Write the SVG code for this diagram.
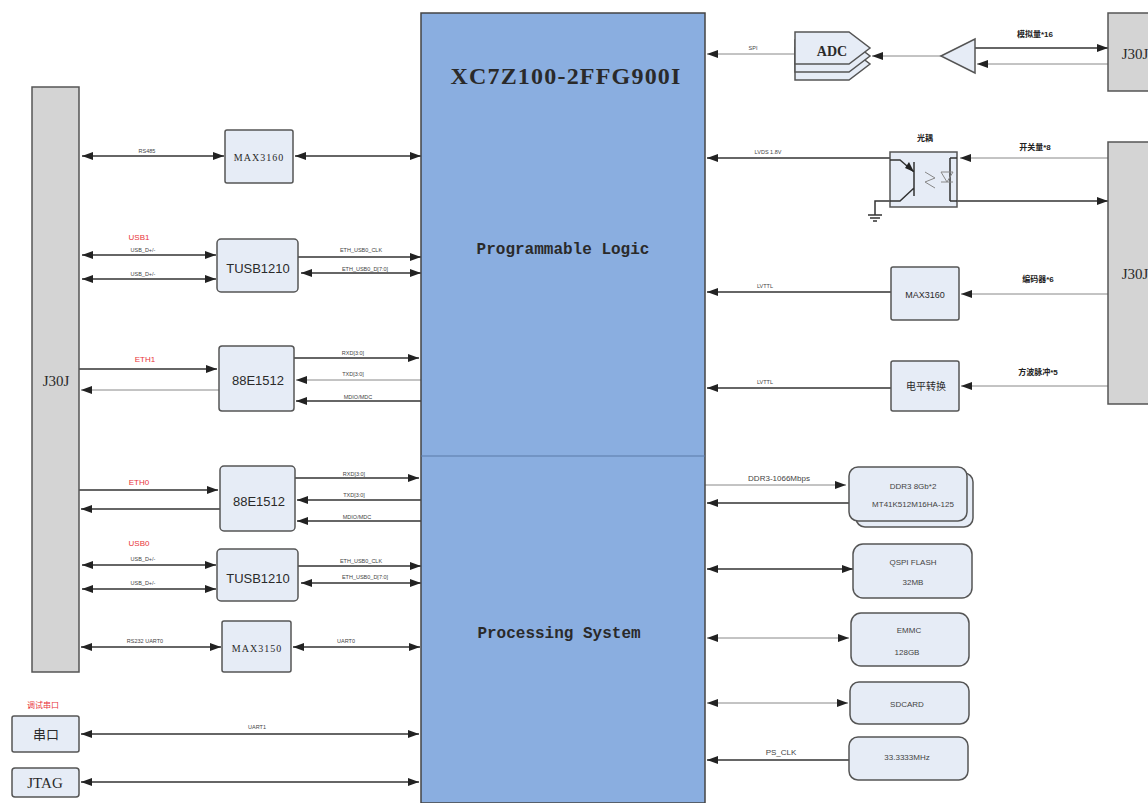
<svg xmlns="http://www.w3.org/2000/svg" width="1148" height="803" viewBox="0 0 1148 803">
<style>
text{font-family:"Liberation Sans","Noto Sans CJK SC",sans-serif;text-anchor:middle;fill:#2a2a2a}
.box{fill:#e6ecf6;stroke:#555;stroke-width:1.5}
.conn{fill:#d4d4d4;stroke:#555;stroke-width:1.5}
.chip{fill:#8aaee0;stroke:#444;stroke-width:1.5}
.ln{stroke:#333;stroke-width:1.5;fill:none}
.th{stroke-width:1;stroke:#888}
.a{marker-end:url(#e)}
.b{marker-start:url(#s);marker-end:url(#e)}
.s{font-family:"Liberation Serif","Noto Sans CJK SC",serif;font-size:15px}
.m{font-family:"Liberation Mono","Noto Sans CJK SC",monospace;font-size:16px;font-weight:bold}
.t{font-size:5.5px;fill:#444}
.r{font-size:8px;fill:#e8343a}
.c{font-size:8px;font-weight:bold;fill:#222}
.d{font-size:8px;fill:#444}
</style>
<defs>
<marker id="e" markerUnits="userSpaceOnUse" markerWidth="11" markerHeight="8" refX="11" refY="4" orient="auto"><path d="M0 0L11 4L0 8Z" fill="#222"/></marker>
<marker id="s" markerUnits="userSpaceOnUse" markerWidth="11" markerHeight="8" refX="0" refY="4" orient="auto"><path d="M11 0L0 4L11 8Z" fill="#222"/></marker>
</defs>
<rect width="1148" height="803" fill="#fff"/>
<g id="connectors">
<path class="ln b" d="M82 156H224"/><path class="ln b" d="M295 156H421"/>
<path class="ln b" d="M82 255H216"/><path class="ln b" d="M82 279H216"/>
<path class="ln a" d="M298 257H421"/><path class="ln b" d="M301 273H421"/>
<path class="ln a" d="M79 369H217"/><path class="ln th a" d="M219 390H81"/>
<path class="ln a" d="M294 358H419"/><path class="ln th a" d="M421 380H296"/><path class="ln a" d="M421 401H296"/>
<path class="ln a" d="M79 490H218"/><path class="ln a" d="M220 509H81"/>
<path class="ln a" d="M295 478H419"/><path class="ln a" d="M421 500H297"/><path class="ln a" d="M421 521H297"/>
<path class="ln b" d="M82 565H216"/><path class="ln b" d="M82 589H216"/>
<path class="ln a" d="M298 566H421"/><path class="ln b" d="M301 583H421"/>
<path class="ln b" d="M81 647H221"/><path class="ln b" d="M293 647H420"/>
<path class="ln b" d="M81 734H419"/><path class="ln b" d="M81 782H419"/>
<path class="ln th a" d="M795 54H707"/><path class="ln th a" d="M941 56H872"/>
<path class="ln a" d="M974 48H1108"/><path class="ln th a" d="M1108 64H977"/>
<path class="ln a" d="M890 158H707"/><path class="ln th a" d="M1108 158H960"/><path class="ln a" d="M957 201H1108"/>
<path class="ln" d="M890 201H875V215M868 215H882M870 218H880M873 221H877"/>
<path class="ln a" d="M891 292H707"/><path class="ln th a" d="M1108 294H961"/>
<path class="ln a" d="M891 388H707"/><path class="ln th a" d="M1108 386H961"/>
<path class="ln th a" d="M705 485H846"/><path class="ln a" d="M849 503H707"/>
<path class="ln b" d="M707 569H853"/><path class="ln th b" d="M707 638H849"/><path class="ln th b" d="M707 703H848"/>
<path class="ln a" d="M849 760H707"/>
</g>
<g id="fpga">
<rect class="chip" x="421" y="13" width="284" height="790"/>
<path d="M421 456H705" stroke="#5a7aa8" stroke-width="1"/>
<text x="566" y="84" font-size="24" font-weight="bold" letter-spacing="1.2" style="font-family:'Liberation Serif',serif" fill="#222">XC7Z100-2FFG900I</text>
<text class="m" x="563" y="254">Programmable Logic</text>
<text class="m" x="559" y="638">Processing System</text>
</g>
<g id="j30j-left"><rect class="conn" x="32" y="87" width="47" height="585"/><text class="s" x="56" y="386">J30J</text></g>
<g id="max3160-top"><rect class="box" x="225" y="130" width="68" height="53" rx="2"/><text class="s" x="259" y="161" style="font-size:10px;letter-spacing:1px">MAX3160</text></g>
<g id="tusb1"><rect class="box" x="217" y="239" width="81" height="53" rx="4"/><text x="258" y="273" font-size="13">TUSB1210</text></g>
<g id="phy1"><rect class="box" x="219" y="346" width="75" height="65" rx="3"/><text x="258" y="385" font-size="13">88E1512</text></g>
<g id="phy0"><rect class="box" x="220" y="466" width="75" height="65" rx="4"/><text x="259" y="506" font-size="13">88E1512</text></g>
<g id="tusb0"><rect class="box" x="217" y="549" width="81" height="52" rx="4"/><text x="258" y="583" font-size="13">TUSB1210</text></g>
<g id="max3150"><rect class="box" x="222" y="621" width="69" height="51" rx="2"/><text class="s" x="257" y="652" style="font-size:10px;letter-spacing:1px">MAX3150</text></g>
<g id="serial"><rect class="box" x="12" y="716" width="67" height="36" rx="2"/><text x="46" y="739" font-size="13">串口</text></g>
<g id="jtag"><rect class="box" x="12" y="768" width="67" height="29" rx="3"/><text class="s" x="45" y="788">JTAG</text></g>
<g id="j30j-a"><rect class="conn" x="1108" y="13" width="44" height="78"/><text class="s" x="1135" y="59">J30J</text></g>
<g id="j30j-b"><rect class="conn" x="1108" y="142" width="44" height="262"/><text class="s" x="1135" y="279">J30J</text></g>
<g id="adc">
<path class="box" d="M795 48H849L870 64L849 80H795Z"/>
<path class="box" d="M795 40H849L870 56L849 72H795Z"/>
<path class="box" d="M795 32H849L870 48L849 64H795Z"/>
<text x="832" y="56" font-size="14" font-weight="bold" style="font-family:'Liberation Serif',serif" fill="#222">ADC</text>
</g>
<g id="amp"><path class="box" d="M941 56L975 39V73Z"/></g>
<g id="opto">
<rect class="box" x="890" y="152" width="67" height="55" stroke-width="2"/>
<path class="ln" d="M914 162V196M914 172L900 160H890M914 188L900 201H890M950 158V201M957 158H950M957 201H950"/>
<path d="M914 172L905 168L909 162Z" fill="#222"/>
<path class="ln th" d="M925 172L935 178L925 182L935 188M941 172H953L947 182ZM941 182H953"/>
</g>
<g id="max3160-r"><rect class="box" x="891" y="267" width="68" height="53" rx="2"/><text x="925" y="298" font-size="9">MAX3160</text></g>
<g id="level"><rect class="box" x="891" y="361" width="68" height="50" rx="2"/><text x="926" y="390" font-size="10">电平转换</text></g>
<g id="ddr">
<rect class="box" x="856" y="473" width="117" height="54" rx="9"/>
<rect class="box" x="849" y="467" width="118" height="54" rx="9"/>
<text class="d" x="913" y="489">DDR3 8Gb*2</text><text class="d" x="913" y="507">MT41K512M16HA-125</text>
</g>
<g id="qspi"><rect class="box" x="853" y="544" width="119" height="54" rx="10"/><text class="d" x="913" y="565">QSPI FLASH</text><text class="d" x="913" y="585">32MB</text></g>
<g id="emmc"><rect class="box" x="851" y="613" width="118" height="53" rx="10"/><text class="d" x="909" y="633">EMMC</text><text class="d" x="907" y="655">128GB</text></g>
<g id="sd"><rect class="box" x="850" y="682" width="119" height="42" rx="9"/><text class="d" x="907" y="707">SDCARD</text></g>
<g id="clk"><rect class="box" x="849" y="737" width="119" height="43" rx="9"/><text class="d" x="907" y="760">33.3333MHz</text></g>
<g id="labels">
<text class="t" x="147" y="153">RS485</text>
<text class="r" x="139" y="240">USB1</text><text class="t" x="143" y="252">USB_D+/-</text><text class="t" x="143" y="276">USB_D+/-</text>
<text class="t" x="361" y="252">ETH_USB0_CLK</text><text class="t" x="365" y="271">ETH_USB0_D[7:0]</text>
<text class="r" x="145" y="362">ETH1</text>
<text class="t" x="353" y="355">RXD[3:0]</text><text class="t" x="353" y="376">TXD[3:0]</text><text class="t" x="358" y="399">MDIO/MDC</text>
<text class="r" x="139" y="485">ETH0</text>
<text class="t" x="354" y="476">RXD[3:0]</text><text class="t" x="354" y="497">TXD[3:0]</text><text class="t" x="357" y="519">MDIO/MDC</text>
<text class="r" x="139" y="546">USB0</text><text class="t" x="143" y="561">USB_D+/-</text><text class="t" x="143" y="585">USB_D+/-</text>
<text class="t" x="361" y="563">ETH_USB0_CLK</text><text class="t" x="365" y="579">ETH_USB0_D[7:0]</text>
<text class="t" x="145" y="643">RS232 UART0</text><text class="t" x="346" y="643">UART0</text>
<text class="r" x="43" y="708">调试串口</text><text class="t" x="257" y="729">UART1</text>
<text class="t" x="753" y="50">SPI</text><text class="t" x="768" y="154">LVDS 1.8V</text>
<text class="t" x="765" y="288">LVTTL</text><text class="t" x="765" y="384">LVTTL</text>
<text class="d" x="779" y="481">DDR3-1066Mbps</text><text class="d" x="781" y="755">PS_CLK</text>
<text class="c" x="1035" y="37">模拟量*16</text><text class="c" x="925" y="141">光耦</text>
<text class="c" x="1035" y="150">开关量*8</text><text class="c" x="1038" y="282">编码器*6</text><text class="c" x="1038" y="375">方波脉冲*5</text>
</g>
</svg>
